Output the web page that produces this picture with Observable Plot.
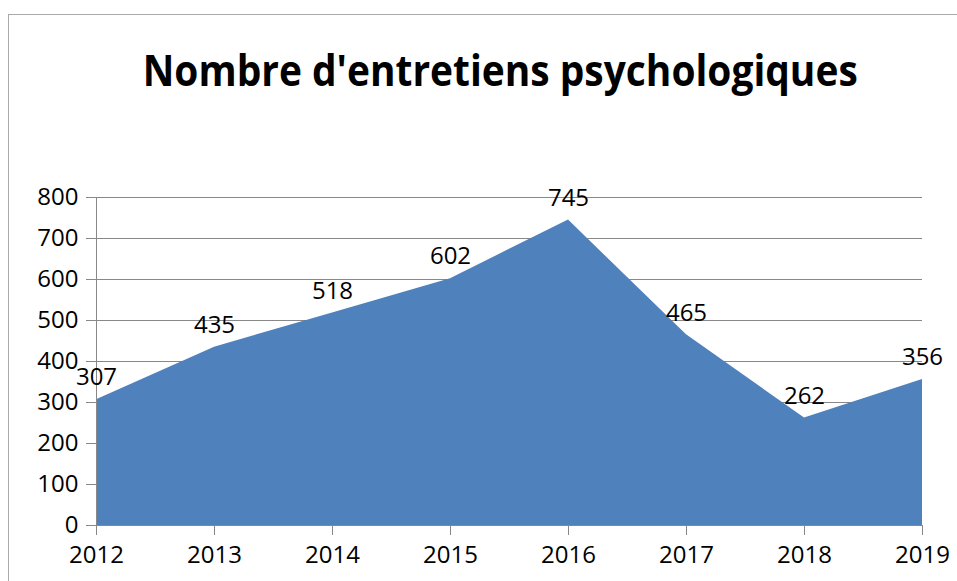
<!DOCTYPE html>
<html>
<head>
<meta charset="utf-8">
<script src="https://cdn.jsdelivr.net/npm/d3@7"></script>
<script src="https://cdn.jsdelivr.net/npm/@observablehq/plot@0.6"></script>
<style>
  html, body { margin: 0; padding: 0; background: #fff; overflow: hidden; width: 957px; height: 581px; }
  #frame { position: absolute; left: 8px; top: 14px; width: 1200px; height: 1200px; border: 1px solid #aaaaaa; box-sizing: border-box; }
  #title { position: absolute; left: 0; top: 48px; width: 1001px; text-align: center; font-family: "Open Sans", sans-serif; font-weight: 700; font-size: 43px; line-height: 1; white-space: nowrap; color: #000; }
  #title span { display: inline-block; transform-origin: center; }
  #chart { position: absolute; left: 0; top: 0; }
</style>
</head>
<body>
<div id="frame"></div>
<div id="title"><span>Nombre d'entretiens psychologiques</span></div>
<div id="chart"></div>
<script>
const years = [2012, 2013, 2014, 2015, 2016, 2017, 2018, 2019];
const values = [307, 435, 518, 602, 745, 465, 262, 356];
const yTicks = [0, 100, 200, 300, 400, 500, 600, 700, 800];
const titleText = "Nombre d'entretiens psychologiques";

const data = years.map((year, i) => ({year, value: values[i]}));

const span = document.querySelector("#title span");
span.textContent = titleText;
const w = span.getBoundingClientRect().width;
span.style.transform = `scaleX(${715 / w})`;

const font = "'Open Sans', sans-serif";
const chart = Plot.plot({
  width: 957,
  height: 581,
  marginLeft: 96,
  marginRight: 35,
  marginTop: 197,
  marginBottom: 56,
  style: {fontFamily: font, fontSize: "24px", color: "#000", background: "transparent", overflow: "visible"},
  x: {type: "linear", domain: [2012, 2019], ticks: years, tickFormat: "d", label: null},
  y: {domain: [0, 800], ticks: yTicks, label: null},
  marks: [
    Plot.ruleY(yTicks, {stroke: "#888888", strokeWidth: 1, strokeOpacity: 1}),
    Plot.areaY(data, {x: "year", y: "value", fill: "#4F81BD", fillOpacity: 1}),
    Plot.ruleX([2012], {y1: 0, y2: 800, stroke: "#888888", strokeOpacity: 1}),
    Plot.axisY({ticks: yTicks, tickSize: 10, tickPadding: 8, stroke: "#888888", strokeOpacity: 1, fill: "#000", fontSize: 24, label: null}),
    Plot.axisX({ticks: years, tickFormat: "d", tickSize: 10, tickPadding: 10, stroke: "#888888", strokeOpacity: 1, fill: "#000", fontSize: 24, label: null}),
    Plot.text(data, {x: "year", y: "value", text: d => String(d.value), dy: -22, fill: "#000", fontSize: 24, stroke: "none"})
  ]
});
document.querySelector("#chart").append(chart);
</script>
</body>
</html>
